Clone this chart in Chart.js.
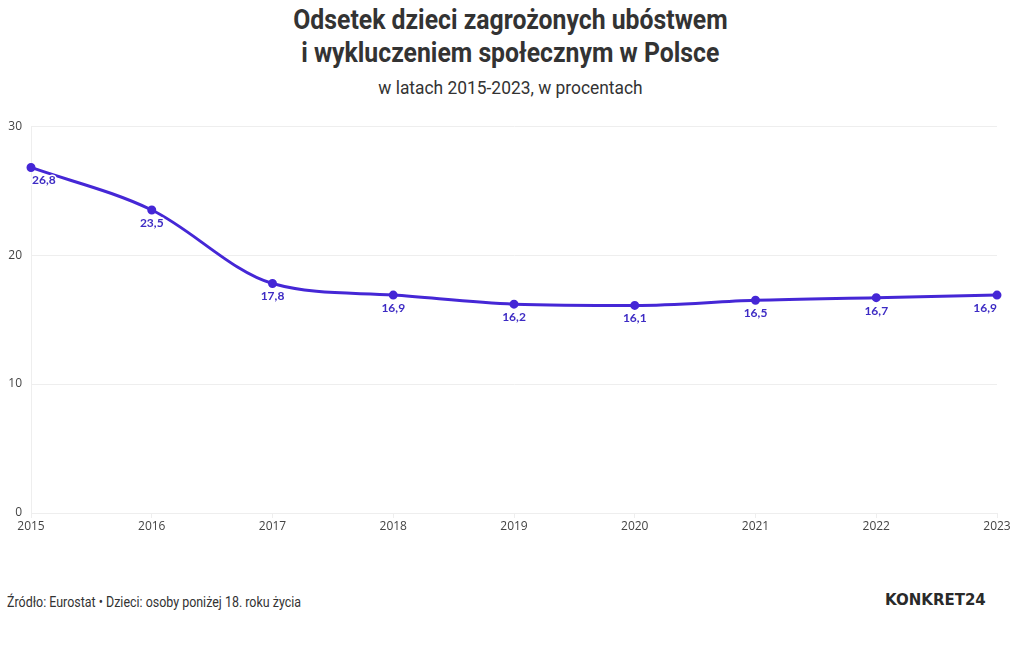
<!DOCTYPE html>
<html>
<head>
<meta charset="utf-8">
<script src="https://cdn.jsdelivr.net/npm/chart.js@4"></script>
<style>
  html, body { margin: 0; padding: 0; background: #fff; }
  body { width: 1020px; height: 650px; position: relative; overflow: hidden; font-family: Roboto, sans-serif; color: #333; }
  .cond { display: inline-block; transform: scaleX(0.84); transform-origin: center; white-space: nowrap; }
  #title { position: absolute; top: 3px; left: 0; width: 1020px; text-align: center; font-weight: 700; font-size: 28px; line-height: 33px; color: #333; }
  #title .cond { transform: scaleX(0.885); }
  #subtitle { position: absolute; top: 76px; left: 0; width: 1020px; text-align: center; font-size: 19px; color: #333; }
  #subtitle .cond { transform: scaleX(0.915); }
  #wrap { position: absolute; left: 0; top: 110px; width: 1020px; height: 430px; }
  #source { position: absolute; left: 7px; top: 593px; font-size: 15px; color: #333; }
  #source .cond { transform: scaleX(0.83); transform-origin: left center; }
  #logo { position: absolute; left: 885px; top: 591px; font-family: "DejaVu Sans", sans-serif; font-weight: 700; font-size: 15px; letter-spacing: 0px; color: #2a2a2a; }
</style>
</head>
<body>
<div id="title"><span class="cond">Odsetek dzieci zagrożonych ubóstwem</span><br><span class="cond">i wykluczeniem społecznym w Polsce</span></div>
<div id="subtitle"><span class="cond">w latach 2015-2023, w procentach</span></div>
<div id="wrap"><canvas id="chart"></canvas></div>
<div id="source"><span class="cond">Źródło: Eurostat • Dzieci: osoby poniżej 18. roku życia</span></div>
<div id="logo">KONKRET24</div>
<script>
// dane
var years = ['2015', '2016', '2017', '2018', '2019', '2020', '2021', '2022', '2023'];
var values = [26.8, 23.5, 17.8, 16.9, 16.2, 16.1, 16.5, 16.7, 16.9];
var yTicks = [0, 10, 20, 30];

var lineColor = '#4527d6';

// etykiety wartości pod punktami
var valueLabels = {
    id: 'valueLabels',
    afterDatasetsDraw: function(chart) {
        var ctx = chart.ctx;
        var area = chart.chartArea;
        var meta = chart.getDatasetMeta(0);
        ctx.save();
        ctx.font = 'bold 12px Lato, sans-serif';
        ctx.textAlign = 'center';
        ctx.textBaseline = 'middle';
        ctx.lineJoin = 'round';
        meta.data.forEach(function(pt, i) {
            var txt = values[i].toFixed(1).replace('.', ',');
            var w = ctx.measureText(txt).width;
            var x = pt.x;
            if (x - w / 2 < area.left) x = area.left + w / 2 + 1;
            if (x + w / 2 > area.right) x = area.right - w / 2;
            var y = pt.y + 13;
            ctx.strokeStyle = '#fff';
            ctx.lineWidth = 3;
            ctx.strokeText(txt, x, y);
            ctx.fillStyle = '#3d2bc4';
            ctx.fillText(txt, x, y);
        });
        ctx.restore();
    }
};

var ctx = document.getElementById('chart').getContext('2d');
var chart = new Chart(ctx, {
    type: 'line',
    data: {
        labels: years,
        datasets: [{
            data: values,
            borderColor: lineColor,
            backgroundColor: lineColor,
            borderWidth: 3,
            pointRadius: 3,
            pointHoverRadius: 3,
            cubicInterpolationMode: 'monotone',
            fill: false
        }]
    },
    options: {
        responsive: true,
        maintainAspectRatio: false,
        animation: false,
        layout: { padding: { top: 15, right: 23, left: 0, bottom: 0 } },
        plugins: {
            legend: { display: false },
            tooltip: { enabled: false }
        },
        scales: {
            x: {
                offset: false,
                grid: { drawOnChartArea: false, drawTicks: true, tickLength: 5, color: '#eeeeee' },
                border: { display: false },
                ticks: { color: '#444', font: { family: 'Open Sans', size: 12 }, padding: 1, maxRotation: 0, autoSkip: false },
                afterFit: function(s) { s.height = 27; }
            },
            y: {
                min: 0,
                max: 30,
                afterBuildTicks: function(s) { s.ticks = yTicks.map(function(v) { return { value: v }; }); },
                grid: { color: '#eeeeee', drawTicks: false },
                border: { display: true, color: '#eeeeee' },
                ticks: { color: '#444', font: { family: 'Open Sans', size: 12 }, padding: 9 },
                afterFit: function(s) { s.width = 31; }
            }
        }
    },
    plugins: [valueLabels]
});
</script>
</body>
</html>
